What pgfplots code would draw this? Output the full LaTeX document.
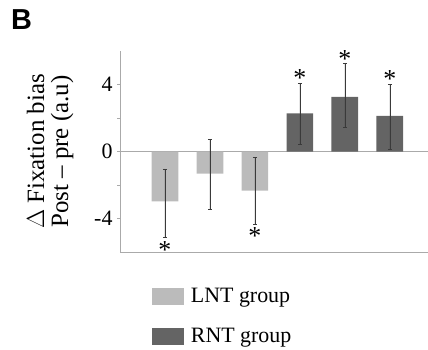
\documentclass[border=0pt]{standalone}
\usepackage{fontspec}
\setmainfont{Liberation Serif}
\newfontfamily\sansb{Liberation Sans}
\usepackage{pgfplots}
\pgfplotsset{compat=1.18}
\definecolor{lnt}{HTML}{BBBBBB}
\definecolor{rnt}{HTML}{646464}
\definecolor{axg}{HTML}{AAAAAA}
\definecolor{errc}{HTML}{3A3A3A}
\begin{document}
\begin{tikzpicture}
\useasboundingbox (0,0) rectangle (428bp,-350bp);
\node[anchor=north west, inner sep=0pt, font=\sansb\bfseries\fontsize{29}{29}\selectfont] at (11bp,-9bp) {B};
\begin{axis}[
  at={(120bp,-252bp)}, anchor=south west,
  scale only axis, width=308bp, height=201bp,
  clip=false,
  xmin=0, xmax=6.85, ymin=-6, ymax=6,
  axis x line=bottom, axis y line=left,
  axis line style={axg, line width=0.6bp, -},
  xtick=\empty,
  ytick={-4,-2,0,2,4}, yticklabels={-4,,0,,4},
  tick align=outside, major tick length=3bp,
  tick style={axg, line width=0.6bp},
  extra y ticks={0}, extra y tick labels={},
  extra y tick style={grid=major, major grid style={axg, line width=0.8bp}, major tick length=0pt},
  yticklabel style={font=\fontsize{22}{22}\selectfont, xshift=-1bp},
  ylabel={$\Delta$ Fixation bias\\Post – pre (a.u)},
  ylabel style={at={(axis description cs:-0.227,0.5)}, anchor=center, align=center, font=\fontsize{25}{24}\selectfont},
  ybar, bar width=26.7bp, bar shift=0pt,
  legend style={at={(axis description cs:0.103,-0.17)}, anchor=north west, draw=none, fill=none,
    font=\fontsize{22}{22}\selectfont, row sep=20bp, inner sep=0pt, legend cell align=left},
  legend image code/.code={\fill[#1] (0bp,-8.5bp) rectangle (32bp,8.5bp); \path (37bp,0bp);},
  error bars/y dir=both, error bars/y explicit,
  error bars/error bar style={errc, line width=0.5bp},
  error bars/error mark options={rotate=90, errc, mark size=2bp, line width=0.5bp},
]
\addplot[fill=lnt, draw=none] coordinates {
  (1,-2.97) += (0,1.93) -= (0,2.17)
  (2,-1.32) += (0,2.05) -= (0,2.14)
  (3,-2.33) += (0,1.97) -= (0,2.02)
};
\addlegendentry{LNT group}
\addplot[fill=rnt, draw=none] coordinates {
  (4,2.28) += (0,1.82) -= (0,1.82)
  (5,3.26) += (0,1.99) -= (0,1.84)
  (6,2.12) += (0,1.90) -= (0,1.98)
};
\addlegendentry{RNT group}
\begin{scope}[every node/.style={font=\fontsize{26}{26}\selectfont, inner sep=0pt, text height=0pt, text depth=0pt}]
\node at (axis cs:1,-5.14) [yshift=-8.4bp-12bp] {*};
\node at (axis cs:3,-4.35) [yshift=-8.4bp-12bp] {*};
\node at (axis cs:4,4.10) [yshift=8.4bp-12bp] {*};
\node at (axis cs:5,5.25) [yshift=8.4bp-12bp] {*};
\node at (axis cs:6,4.02) [yshift=8.4bp-12bp] {*};
\end{scope}
\end{axis}
\end{tikzpicture}
\end{document}
